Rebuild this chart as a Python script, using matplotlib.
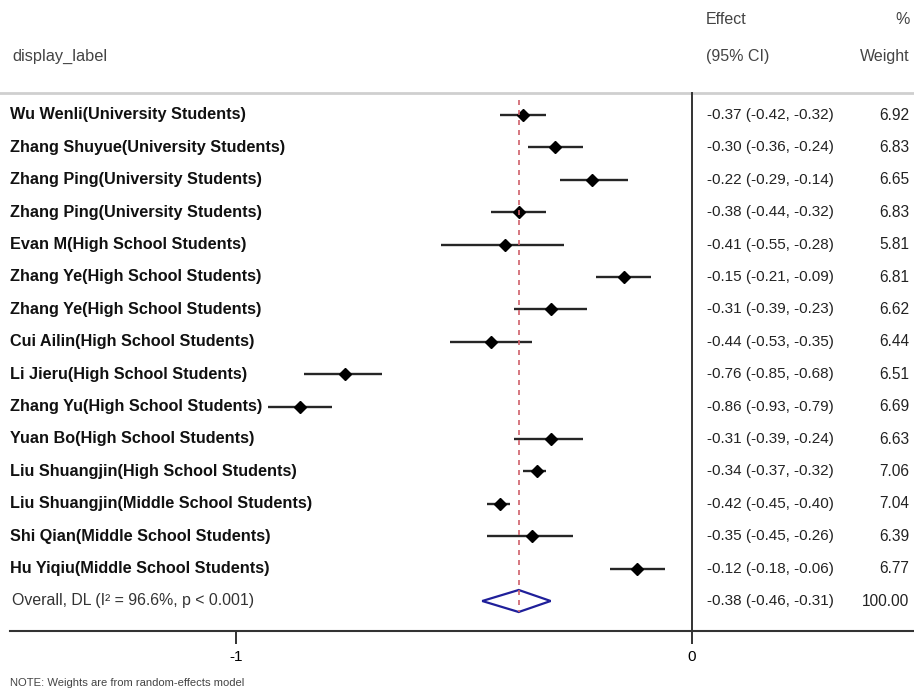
import matplotlib
matplotlib.use("Agg")
import matplotlib.pyplot as plt
import matplotlib.transforms as mtransforms

plt.rcParams['font.family'] = ['Liberation Sans', 'DejaVu Sans']

labels = [
    "Wu Wenli(University Students)",
    "Zhang Shuyue(University Students)",
    "Zhang Ping(University Students)",
    "Zhang Ping(University Students)",
    "Evan M(High School Students)",
    "Zhang Ye(High School Students)",
    "Zhang Ye(High School Students)",
    "Cui Ailin(High School Students)",
    "Li Jieru(High School Students)",
    "Zhang Yu(High School Students)",
    "Yuan Bo(High School Students)",
    "Liu Shuangjin(High School Students)",
    "Liu Shuangjin(Middle School Students)",
    "Shi Qian(Middle School Students)",
    "Hu Yiqiu(Middle School Students)",
]
effects = [-0.37, -0.30, -0.22, -0.38, -0.41, -0.15, -0.31, -0.44, -0.76, -0.86, -0.31, -0.34, -0.42, -0.35, -0.12]
lower = [-0.42, -0.36, -0.29, -0.44, -0.55, -0.21, -0.39, -0.53, -0.85, -0.93, -0.39, -0.37, -0.45, -0.45, -0.18]
upper = [-0.32, -0.24, -0.14, -0.32, -0.28, -0.09, -0.23, -0.35, -0.68, -0.79, -0.24, -0.32, -0.40, -0.26, -0.06]
weights = ["6.92", "6.83", "6.65", "6.83", "5.81", "6.81", "6.62", "6.44", "6.51", "6.69", "6.63", "7.06", "7.04", "6.39", "6.77"]

overall_label = "Overall, DL (I\u00b2 = 96.6%, p < 0.001)"
overall_effect = -0.38
overall_lower = -0.46
overall_upper = -0.31
overall_weight = "100.00"

xticks = [-1, 0]
xticklabels = ["-1", "0"]

W, H = 914, 688
fig = plt.figure(figsize=(W / 100, H / 100), dpi=100)
ax = fig.add_axes([0, 0, 1, 1])

# pixel mapping: 0 at px 692, -1 at px 236
ppu = 456.0
x0 = -692 / ppu
x1 = (W - 692) / ppu
ax.set_xlim(x0, x1)
row0, rstep = 115.0, 32.4
ax.set_ylim((H - row0) / rstep, -row0 / rstep)

n = len(labels)
rows = list(range(n))
orow = n

def px_y(p):
    return (p - row0) / rstep

# CI lines and points
for i in rows:
    ax.plot([lower[i], upper[i]], [i, i], color='#262626', lw=1.7, solid_capstyle='butt', zorder=3)
ax.plot(effects, rows, linestyle='none', marker='D', markersize=6, color='black', zorder=4)

# overall diamond
dh = 0.34
ax.fill([overall_lower, overall_effect, overall_upper, overall_effect, overall_lower],
        [orow, orow - dh, orow, orow + dh, orow], facecolor='white', edgecolor='#1f1f9a', lw=1.6, zorder=5)

# dashed overall line
ax.plot([overall_effect, overall_effect], [px_y(100), px_y(612)], color='#d0606a', lw=1.2,
        linestyle=(0, (3, 3)), zorder=6)

# vertical null line
ax.plot([0, 0], [px_y(93), px_y(631)], color='#333333', lw=1.4, zorder=2)

# top gray separator
ax.axhline(px_y(93), color='#cfcfcf', lw=2.0, zorder=1)

# bottom axis via spine
for s in ['top', 'right', 'left']:
    ax.spines[s].set_visible(False)
ax.spines['bottom'].set_position(('data', px_y(631)))
ax.spines['bottom'].set_bounds(10 / ppu + x0, x1)
ax.spines['bottom'].set_linewidth(1.5)
ax.spines['bottom'].set_color('#333333')
ax.set_xticks(xticks)
ax.set_xticklabels(xticklabels, fontsize=11)
ax.tick_params(axis='x', direction='out', length=9, width=1.4, color='#333333', pad=5)
ax.set_yticks([])

trans = mtransforms.blended_transform_factory(fig.transFigure, ax.transData)

def fx(p):
    return p / W

# left labels
for i in rows:
    ax.text(fx(10), i, labels[i], transform=trans, ha='left', va='center', fontsize=11.7,
            fontweight='bold', color='#111111')
ax.text(fx(12), orow, overall_label, transform=trans, ha='left', va='center', fontsize=11.4, color='#333333')

# right columns
for i in rows:
    ax.text(fx(707), i, f"{effects[i]:.2f} ({lower[i]:.2f}, {upper[i]:.2f})", transform=trans,
            ha='left', va='center', fontsize=11, color='#222222')
    ax.text(fx(909), i, weights[i], transform=trans, ha='right', va='center', fontsize=11.2, color='#222222')
ax.text(fx(707), orow, f"{overall_effect:.2f} ({overall_lower:.2f}, {overall_upper:.2f})", transform=trans,
        ha='left', va='center', fontsize=11, color='#222222')
ax.text(fx(909), orow, overall_weight, transform=trans, ha='right', va='center', fontsize=11.2, color='#222222')

# headers
hdr = dict(transform=trans, va='center', color='#444444')
ax.text(fx(706), px_y(20), "Effect", ha='left', fontsize=11.5, **hdr)
ax.text(fx(706), px_y(56), "(95% CI)", ha='left', fontsize=11.5, **hdr)
ax.text(fx(910), px_y(20), "%", ha='right', fontsize=11.5, **hdr)
ax.text(fx(910), px_y(56), "Weight", ha='right', fontsize=11.5, **hdr)
ax.text(fx(12), px_y(56), "display_label", ha='left', fontsize=11.8, **hdr)

# note
ax.text(fx(10), px_y(683), "NOTE: Weights are from random-effects model", transform=trans,
        ha='left', va='center', fontsize=8.1, color='#444444')

fig.savefig("out.png", dpi=100)
